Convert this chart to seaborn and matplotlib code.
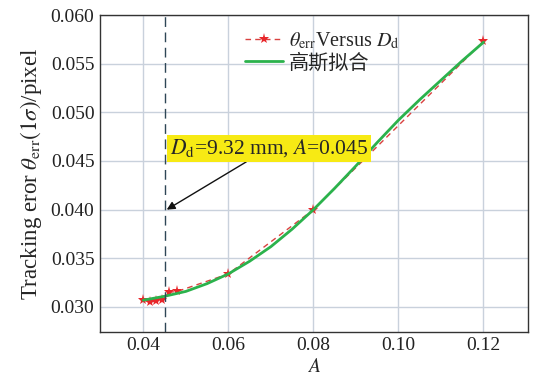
import matplotlib
matplotlib.use("Agg")
import matplotlib.pyplot as plt
import seaborn as sns
import pandas as pd

# measured points
A_pts = [0.040, 0.0415, 0.043, 0.0445, 0.046, 0.048, 0.060, 0.080, 0.120]
theta_pts = [0.0307, 0.0305, 0.0306, 0.0307, 0.0315, 0.0316, 0.0334, 0.0400, 0.0573]

# Gaussian fit curve
A_fit = [0.040, 0.045, 0.050, 0.055, 0.060, 0.065, 0.070, 0.075, 0.080,
         0.085, 0.090, 0.095, 0.100, 0.105, 0.110, 0.115, 0.120]
theta_fit = [0.0307, 0.0311, 0.0316, 0.0324, 0.0334, 0.0347, 0.0362, 0.0380, 0.0400,
             0.0422, 0.0445, 0.0469, 0.0492, 0.0513, 0.0533, 0.0553, 0.0572]

x_ticks = [0.04, 0.06, 0.08, 0.10, 0.12]
y_ticks = [0.030, 0.035, 0.040, 0.045, 0.050, 0.055, 0.060]
A_mark = 0.045

sns.set_theme(style="whitegrid")
plt.rcParams['font.family'] = ['Liberation Serif', 'Noto Sans CJK SC']
plt.rcParams['mathtext.fontset'] = 'stix'

fig = plt.figure(figsize=(5.37, 3.78), dpi=100)
ax = fig.add_axes([0.1862, 0.1225, 0.7965, 0.8378])

df_pts = pd.DataFrame({"A": A_pts, "theta": theta_pts})
df_fit = pd.DataFrame({"A": A_fit, "theta": theta_fit})

sns.lineplot(data=df_pts, x="A", y="theta", ax=ax, color="#d9413f", lw=1.0,
             linestyle=(0, (4, 3)), marker="*", markersize=8, markeredgewidth=0,
             markerfacecolor="#e8262a", label=r"$\theta_{\mathrm{err}}$Versus $D_{\mathrm{d}}$")
sns.lineplot(data=df_fit, x="A", y="theta", ax=ax, color="#2bb24c", lw=2.0,
             label="高斯拟合")

ax.axvline(A_mark, color="#2e4656", lw=1.0, linestyle=(0, (7, 4)))

ax.set_xlim(0.0298, 0.1304)
ax.set_ylim(0.02746, 0.0600)
ax.set_xticks(x_ticks)
ax.set_xticklabels([f"{v:.2f}" for v in x_ticks])
ax.set_yticks(y_ticks)
ax.set_yticklabels([f"{v:.3f}" for v in y_ticks])
ax.tick_params(axis='both', labelsize=14, length=0, pad=4, colors="#222222")

ax.grid(True, color="#c9d1dc", lw=1.0)
for s in ax.spines.values():
    s.set_color("#333333")
    s.set_linewidth(1.0)
ax.set_facecolor("white")

ax.set_xlabel(r"$A$", fontsize=14, labelpad=3)
ax.set_ylabel(r"Tracking eror $\theta_{\mathrm{err}}(1\sigma)$/pixel", fontsize=16.5, labelpad=5)

ax.annotate(r"$D_{\mathrm{d}}$=9.32 mm, $A$=0.045", xy=(0.0455, 0.0400),
            xytext=(0.0695, 0.0463), ha="center", va="center", fontsize=15.5,
            bbox=dict(boxstyle="square,pad=0.12", fc="#f7ea14", ec="none"),
            arrowprops=dict(arrowstyle="-|>", color="#111111", lw=1.0,
                            mutation_scale=12, shrinkA=0, shrinkB=0),
            )

leg = ax.legend(loc="upper center", bbox_to_anchor=(0.52, 0.99), frameon=False,
                fontsize=14.5, handlelength=1.9, borderaxespad=0.2, labelspacing=0.15,
                handletextpad=0.3)

fig.savefig("out.png", dpi=100, facecolor="white")
